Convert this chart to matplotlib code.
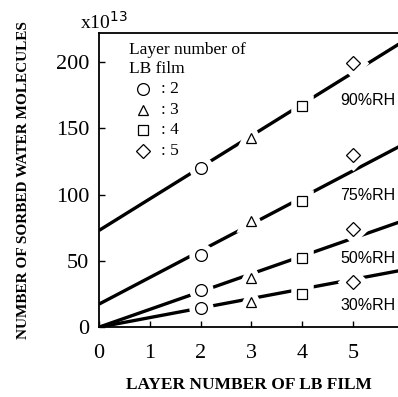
import matplotlib
matplotlib.use("Agg")
import matplotlib.pyplot as plt
import numpy as np

# Data
layers = [2, 3, 4, 5]
markers = ["o", "^", "s", "D"]
rh_labels = ["90%RH", "75%RH", "50%RH", "30%RH"]
rh90 = [120, 143, 167, 199]
rh75 = [54.5, 80, 95, 130]
rh50 = [28, 37, 52, 74]
rh30 = [14.5, 19, 25, 34]
fit_intercept = [73, 17.4, 0, 0]
fit_slope = [23.8, 20.1, 13.4, 7.2]
label_pos_y = [171, 99, 52, 16]
x_ticks = [0, 1, 2, 3, 4, 5]
y_ticks = [0, 50, 100, 150, 200]

series = [rh90, rh75, rh50, rh30]

serif = ["Liberation Serif", "DejaVu Serif"]
plt.rcParams["font.family"] = serif

fig = plt.figure(figsize=(3.98, 3.97), dpi=100)
ax = fig.add_axes([0.249, 0.176, 0.751, 0.741])

xl = np.array([0, 6.0])
for b, m in zip(fit_intercept, fit_slope):
    ax.plot(xl, b + m * xl, color="black", lw=2.4, solid_capstyle="butt", zorder=2)

def msize(mk):
    return 8.5 if mk == "o" else (7.5 if mk == "s" else 7)

for vals in series:
    for x, y, mk in zip(layers, vals, markers):
        ax.plot([x], [y], marker=mk, ms=msize(mk), mfc="white", mec="white", mew=9, zorder=3)
        ax.plot([x], [y], marker=mk, ms=msize(mk), mfc="white", mec="black", mew=0.9, zorder=4)

for lab, ly in zip(rh_labels, label_pos_y):
    ax.text(5.3, ly, lab, ha="center", va="center", fontsize=11.5,
            family=["Liberation Sans", "DejaVu Sans"], zorder=5)

# Legend (manual)
ax.text(0.58, 209, "Layer number of", fontsize=12.5, ha="left", va="center")
ax.text(0.58, 195, "LB film", fontsize=12.5, ha="left", va="center")
leg_y = [180, 164, 149, 133]
for mk, ly, n in zip(markers, leg_y, layers):
    ax.plot([0.87], [ly], marker=mk, ms=msize(mk), mfc="white", mec="black", mew=0.9)
    ax.text(1.22, ly, ": %d" % n, fontsize=12.5, ha="left", va="center")

ax.set_xlim(0, 5.89)
ax.set_ylim(0, 222)
ax.set_xticks(x_ticks)
ax.set_yticks(y_ticks)
ax.tick_params(direction="in", length=4, width=1, labelsize=16)
ax.tick_params(axis="x", pad=12)
ax.tick_params(axis="y", pad=7)
for s in ["left", "bottom", "top"]:
    ax.spines[s].set_linewidth(1.3)
ax.spines["right"].set_visible(False)

ax.set_xlabel("LAYER NUMBER OF LB FILM", fontsize=12.5, fontweight="bold", labelpad=10)
ax.set_ylabel("NUMBER OF SORBED WATER MOLECULES", fontsize=11, fontweight="bold", labelpad=19)
fig.text(0.20, 0.945, r"x10$^{13}$", fontsize=14, ha="left", va="center")

fig.savefig("out.png", dpi=100)
